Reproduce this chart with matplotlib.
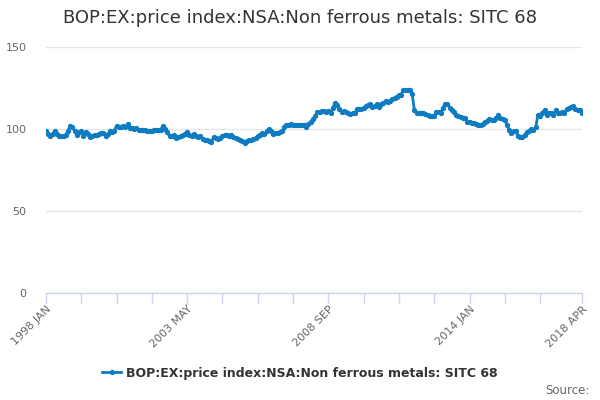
import matplotlib as mpl
import matplotlib.pyplot as plt
import numpy as np

# monthly values, 1998 JAN .. 2018 APR
vals_1998 = [99, 97, 96, 97, 99, 97, 96, 96, 95.5, 96.5, 99, 102]
vals_1999 = [101, 99, 96.5, 98, 99, 96, 98, 97, 95, 96, 96.5, 96.5]
vals_2000 = [97, 97.5, 97.5, 96, 97, 98.5, 98, 99, 102, 101, 101, 102]
vals_2001 = [101, 103, 100.5, 100.5, 100, 100.5, 99.5, 99.5, 99.5, 99.5, 99, 98.5]
vals_2002 = [99, 99.5, 99.5, 99.5, 99.5, 102, 100, 98, 95.5, 96, 96.5, 94.5]
vals_2003 = [95, 95.5, 96.5, 97, 98, 96.5, 96, 97, 95.5, 95, 95.5, 94]
vals_2004 = [93.5, 93, 92.5, 92.3, 95, 94.5, 93.7, 94.5, 95.5, 96.5, 96.5, 96]
vals_2005 = [96.5, 95, 94.5, 94, 93.5, 92.5, 91.7, 92.5, 93, 93, 93.7, 94.5]
vals_2006 = [95.5, 96.5, 97.6, 97, 98.5, 100, 98.5, 97, 97.5, 97.6, 98, 98.6]
vals_2007 = [101, 102.4, 102.5, 103, 102.5, 102.7, 102.5, 102.7, 102.7, 102.5, 101, 103]
vals_2008 = [104.5, 106, 108, 110.5, 110.5, 111, 111, 110.5, 111, 109.5, 113, 115.7]
vals_2009 = [114.6, 112, 110.5, 111, 110.5, 110, 109, 109.5, 110, 112, 112, 112]
vals_2010 = [113, 114, 114.5, 115, 113.6, 114, 115, 113.6, 115, 115.7, 117.3, 116.5]
vals_2011 = [117, 118, 119, 119.7, 120.5, 121, 123.8, 124, 124, 123.5, 121.3, 111.6]
vals_2012 = [110, 110, 110, 110, 109.3, 108.5, 108, 108, 108, 110.5, 110.5, 110]
vals_2013 = [113, 115.5, 115.5, 113, 111.5, 110.5, 108.5, 108, 107.5, 106.5, 106.5, 104.5]
vals_2014 = [104, 103.5, 103.5, 103, 102.4, 102.4, 103, 104.5, 105, 106, 105.5, 105.5]
vals_2015 = [107, 108.5, 106.5, 106, 105.5, 102.5, 99.5, 97.6, 98.5, 99, 95.5, 95]
vals_2016 = [95, 96.5, 98, 99, 100, 99.6, 101, 108.5, 108, 109.5, 111.8, 108.5]
vals_2017 = [109.5, 110, 108.5, 111.5, 110, 109.5, 110.5, 110, 112, 113, 113.4, 114]
vals_2018 = [112.5, 111.6, 111.6, 109.6]

values = (vals_1998 + vals_1999 + vals_2000 + vals_2001 + vals_2002 + vals_2003
          + vals_2004 + vals_2005 + vals_2006 + vals_2007 + vals_2008 + vals_2009
          + vals_2010 + vals_2011 + vals_2012 + vals_2013 + vals_2014 + vals_2015
          + vals_2016 + vals_2017 + vals_2018)

months = ["JAN", "FEB", "MAR", "APR", "MAY", "JUN",
          "JUL", "AUG", "SEP", "OCT", "NOV", "DEC"]
periods = [f"{1998 + i // 12} {months[i % 12]}" for i in range(len(values))]

series_name = "BOP:EX:price index:NSA:Non ferrous metals: SITC 68"
title = "BOP:EX:price index:NSA:Non ferrous metals: SITC 68"
y_ticks = [0, 50, 100, 150]

line_color = "#0f7cc2"
axis_color = "#ccd6eb"
text_grey = "#666666"

plt.rcParams["font.family"] = "DejaVu Sans"

fig = plt.figure(figsize=(6, 4), dpi=100)
ax = fig.add_axes([46 / 600, 1 - 293 / 400, 536 / 600, 246 / 400])

x = np.arange(len(values))
ax.plot(x, values, color=line_color, linewidth=2, marker="o", markersize=2.8,
        label=series_name, zorder=3)

last = len(values) - 1
ax.set_xlim(0, last)
ax.set_ylim(0, 150)
ax.set_yticks(y_ticks)
ax.grid(axis="y", color="#e6e6e6", linewidth=1)
ax.set_axisbelow(True)

# ticks every 16 months, the last regular one dropped when it crowds the end
tick_pos = [p for p in range(0, last, 16) if last - p > 8] + [last]
ax.set_xticks(tick_pos)
labels = []
for i, p in enumerate(tick_pos):
    if i % 4 == 0 or p == last:
        labels.append(periods[p])
    else:
        labels.append("")
ax.set_xticklabels(labels, rotation=45, ha="right", rotation_mode="anchor",
                   color=text_grey, fontsize=8)
ax.tick_params(axis="x", length=7, color=axis_color, width=1, pad=1)
ax.tick_params(axis="y", length=0, labelcolor=text_grey, labelsize=8, pad=14)

for side in ["top", "right", "left"]:
    ax.spines[side].set_visible(False)
ax.spines["bottom"].set_color(axis_color)
ax.spines["bottom"].set_linewidth(1)

fig.text(0.5, 1 - 18 / 400, title, ha="center", va="center",
         fontsize=13, color="#333333")

leg = fig.legend(loc="center", bbox_to_anchor=(0.5, 1 - 373 / 400),
                 frameon=False, handlelength=1.5, handletextpad=0.4,
                 prop={"weight": "bold", "size": 9})
for t in leg.get_texts():
    t.set_color("#333333")

fig.text(590 / 600, 1 - 390 / 400, "Source:", ha="right", va="center",
         fontsize=8.5, color=text_grey)

fig.savefig("out.png", dpi=100)
